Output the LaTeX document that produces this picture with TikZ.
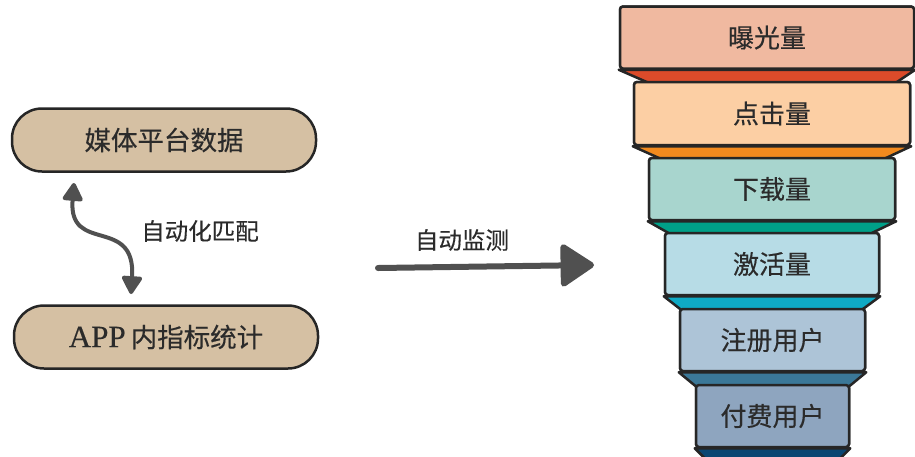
\documentclass[tikz,border=0pt]{standalone}
\usepackage{fontspec}
\newfontfamily\cjk[FakeBold=0.35]{Noto Sans CJK SC}
\newfontfamily\lat[FakeBold=0.5]{Liberation Serif}
\usetikzlibrary{arrows.meta}
\definecolor{txt}{HTML}{2B2B2B}
\definecolor{edge}{HTML}{262626}
\definecolor{arr}{HTML}{505050}
\definecolor{tan}{HTML}{D5C0A3}
\definecolor{bA}{HTML}{F0B9A0}\definecolor{tA}{HTML}{DC4B2A}
\definecolor{bB}{HTML}{FCCFA4}\definecolor{tB}{HTML}{F28A1E}
\definecolor{bC}{HTML}{A8D5CE}\definecolor{tC}{HTML}{00A088}
\definecolor{bD}{HTML}{B7DCE6}\definecolor{tD}{HTML}{0FAAC5}
\definecolor{bE}{HTML}{ADC4D7}\definecolor{tE}{HTML}{3B7898}
\definecolor{bF}{HTML}{8EA5BF}\definecolor{tF}{HTML}{0A4672}
\begin{document}
\begin{tikzpicture}[x=1pt,y=-1pt,
  lbox/.style={draw=edge,line width=2.5pt,fill=tan,rounded corners=30pt,
    minimum width=304pt,minimum height=63pt,inner sep=0pt,text=txt,
    font=\fontsize{26.5}{30}\selectfont},
  fbox/.style={draw=edge,line width=2.5pt,rounded corners=3pt,inner sep=0pt,
    minimum height=62pt,text=txt,font=\cjk\fontsize{26}{30}\selectfont},
  trap/.style={draw=edge,line width=2.5pt,line join=round},
  lbl/.style={text=txt,font=\cjk\fontsize{23.5}{28}\selectfont,inner sep=0pt},
  curvy/.style={draw=arr,line width=4pt,line cap=round,
    {Triangle[length=20pt,width=22pt,round]}-{Triangle[length=20pt,width=22pt,round]}},
  bigarrow/.style={draw=arr,line width=6pt,line cap=round,
    -{Triangle[length=36pt,width=46pt,round]}}
]
\useasboundingbox (0,0) rectangle (915,456);

% left boxes
\node[lbox] (m) at (164,140) {\cjk 媒体平台数据};
\node[lbox] (a) at (166,337) {{\lat\fontsize{31}{34}\selectfont APP}\hspace{5pt}{\cjk 内指标统计}};

% curved double arrow
\coordinate (c1) at (74,183);
\coordinate (c2) at (131,294);
\draw[curvy] (c1) .. controls (68,255) and (136,215) .. (c2);
\node[lbl] (l1) at (200,231) {自动化匹配};

% straight arrow
\coordinate (s1) at (378,268);
\coordinate (s2) at (594,265);
\draw[bigarrow] (s1) -- (s2);
\node[lbl] (l2) at (462,240) {自动监测};

% funnel boxes
\node[fbox,fill=bA,minimum width=294pt] (b1) at (767,37.5) {曝光量};
\node[fbox,fill=bB,minimum width=276pt,minimum height=63pt] (b2) at (772,113.5) {点击量};
\node[fbox,fill=bC,minimum width=246pt] (b3) at (772,189) {下载量};
\node[fbox,fill=bD,minimum width=214pt] (b4) at (772,264) {激活量};
\node[fbox,fill=bE,minimum width=185pt] (b5) at (772.5,340) {注册用户};
\node[fbox,fill=bF,minimum width=153pt] (b6) at (772.5,416) {付费用户};

% trapezoids (drawn, then boxes redrawn on top)
\draw[trap,fill=tA] (b1.south west) -- ([shift={(32,14)}]b1.south west) -- ([shift={(-21,14)}]b1.south east) -- (b1.south east) -- cycle;
\draw[trap,fill=tB] (b2.south west) -- ([shift={(29,13)}]b2.south west) -- ([shift={(-28,13)}]b2.south east) -- (b2.south east) -- cycle;
\draw[trap,fill=tC] (b3.south west) -- ([shift={(23,13)}]b3.south west) -- ([shift={(-27,13)}]b3.south east) -- (b3.south east) -- cycle;
\draw[trap,fill=tD] (b4.south west) -- ([shift={(18,14)}]b4.south west) -- ([shift={(-19,14)}]b4.south east) -- (b4.south east) -- cycle;
\draw[trap,fill=tE] (b5.south west) -- ([shift={(17,14)}]b5.south west) -- ([shift={(-17,14)}]b5.south east) -- (b5.south east) -- cycle;
\draw[trap,fill=tF] (b6.south west) -- ([shift={(16,16)}]b6.south west) -- ([shift={(-16,16)}]b6.south east) -- (b6.south east) -- cycle;

\node[fbox,fill=bA,minimum width=294pt] at (b1) {曝光量};
\node[fbox,fill=bB,minimum width=276pt,minimum height=63pt] at (b2) {点击量};
\node[fbox,fill=bC,minimum width=246pt] at (b3) {下载量};
\node[fbox,fill=bD,minimum width=214pt] at (b4) {激活量};
\node[fbox,fill=bE,minimum width=185pt] at (b5) {注册用户};
\node[fbox,fill=bF,minimum width=153pt] at (b6) {付费用户};
\end{tikzpicture}
\end{document}
